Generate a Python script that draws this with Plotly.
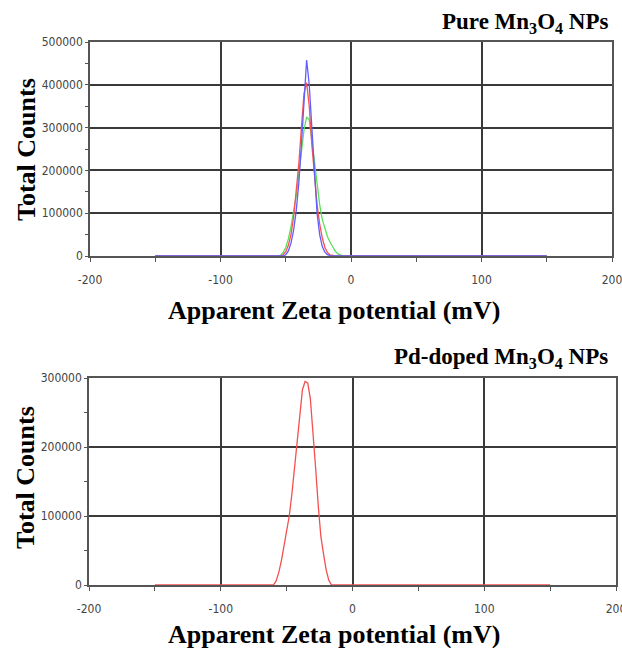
import plotly.graph_objects as go

W, H = 622, 648

# ---------------- data ----------------
# Pure Mn3O4 NPs (three runs)
blue_x = [-150, -52, -50, -48, -46, -44, -42, -40, -38, -36, -34, -32, -30, -28, -26, -24, -22, -20, -18, -16, -14, 150]
blue_y = [0, 0, 3000, 12000, 30000, 60000, 105000, 170000, 260000, 370000, 458000, 400000, 290000, 180000, 100000, 50000, 22000, 9000, 3000, 800, 0, 0]

red_x = [-150, -54, -52, -50, -48, -46, -44, -42, -40, -38, -36, -34, -32, -30, -28, -26, -24, -22, -20, -18, -16, -14, -12, 150]
red_y = [0, 0, 3000, 10000, 25000, 50000, 90000, 145000, 215000, 300000, 380000, 405000, 350000, 260000, 180000, 120000, 75000, 42000, 20000, 8000, 2500, 500, 0, 0]

green_x = [-150, -56, -54, -52, -50, -48, -46, -44, -42, -40, -38, -36, -34, -32, -30, -28, -26, -24, -22, -20, -18, -16, -14, -12, -10, -8, -6, -4, 150]
green_y = [0, 0, 2000, 8000, 20000, 40000, 68000, 100000, 140000, 190000, 245000, 295000, 325000, 318000, 270000, 215000, 165000, 120000, 85000, 62000, 45000, 32000, 20000, 11000, 5000, 2000, 500, 0, 0]

# Pd-doped Mn3O4 NPs
pd_x = [-150, -60, -58, -56, -54, -52, -50, -48, -46, -44, -42, -40, -38, -36, -34, -32, -30, -28, -26, -24, -22, -20, -18, -16, 150]
pd_y = [0, 0, 6000, 18000, 35000, 55000, 75000, 100000, 132000, 170000, 210000, 250000, 283000, 295000, 293000, 270000, 225000, 170000, 115000, 70000, 45000, 22000, 7000, 0, 0]

x_ticks = [-200, -100, 0, 100, 200]
x_tick_text = ["-200", "-100", "0", "100", "200"]
top_y_ticks = [0, 100000, 200000, 300000, 400000, 500000]
bot_y_ticks = [0, 100000, 200000, 300000]

title_top = "Pure Mn<sub>3</sub>O<sub>4</sub> NPs"
title_bot = "Pd-doped Mn<sub>3</sub>O<sub>4</sub> NPs"
x_title = "Apparent Zeta potential (mV)"
y_title = "Total Counts"

# ---------------- figure ----------------
fig = go.Figure()
lw = 1.3
fig.add_trace(go.Scatter(x=green_x, y=green_y, mode="lines", line=dict(color="rgb(90,225,90)", width=lw), xaxis="x", yaxis="y"))
fig.add_trace(go.Scatter(x=red_x, y=red_y, mode="lines", line=dict(color="rgb(250,80,80)", width=lw), xaxis="x", yaxis="y"))
fig.add_trace(go.Scatter(x=blue_x, y=blue_y, mode="lines", line=dict(color="rgb(95,95,255)", width=lw), xaxis="x", yaxis="y"))
fig.add_trace(go.Scatter(x=pd_x, y=pd_y, mode="lines", line=dict(color="rgb(245,80,80)", width=lw), xaxis="x2", yaxis="y2"))

tick_font = dict(family="Liberation Sans Narrow, DejaVu Sans Condensed, Arial Narrow, sans-serif", size=12, color="#444")
grid_col = "#3a3a3a"

def xa(domain, anchor):
    return dict(domain=domain, anchor=anchor, range=[-200, 200], tickvals=x_ticks, ticktext=x_tick_text,
                automargin=False, ticklabeloverflow="allow",
                showgrid=True, gridcolor=grid_col, gridwidth=1.5, zeroline=False,
                showline=True, linecolor="#555", linewidth=1.5, mirror=True,
                ticks="outside", ticklen=4, tickcolor="#555", tickfont=tick_font,
                ticklabelstandoff=8,
                minor=dict(dtick=50, tick0=-150, ticks="outside", ticklen=4, tickcolor="#555", showgrid=False))

def ya(domain, anchor, rng, vals, mdt):
    return dict(domain=domain, anchor=anchor, range=rng, tickvals=vals,
                ticktext=[str(v) for v in vals],
                automargin=False, ticklabeloverflow="allow",
                showgrid=True, gridcolor=grid_col, gridwidth=1.5, zeroline=False,
                showline=True, linecolor="#555", linewidth=1.5, mirror=True,
                ticks="outside", ticklen=3, tickcolor="#555", tickfont=tick_font,
                minor=dict(dtick=mdt, ticks="outside", ticklen=3, tickcolor="#555", showgrid=False))

fig.update_layout(
    width=W, height=H, margin=dict(l=0, r=0, t=0, b=0, autoexpand=False),
    paper_bgcolor="white", plot_bgcolor="white", showlegend=False,
    xaxis=xa([90 / W, 612 / W], "y"),
    yaxis=ya([1 - 256 / H, 1 - 42 / H], "x", [0, 500000], top_y_ticks, 50000),
    xaxis2=xa([89 / W, 616 / W], "y2"),
    yaxis2=ya([1 - 585 / H, 1 - 378 / H], "x2", [0, 300000], bot_y_ticks, 50000),
)

serif = "Liberation Serif, Times New Roman, serif"
ann = []
def add(text, x, y, size, angle=0, xanchor="center"):
    ann.append(dict(text="<b>" + text + "</b>", x=x / W, y=1 - y / H, xref="paper", yref="paper",
                    showarrow=False, textangle=angle, xanchor=xanchor, yanchor="middle",
                    font=dict(family=serif, size=size, color="black")))

add(title_top, 610, 23, 23, xanchor="right")
add(title_bot, 610, 358, 23, xanchor="right")
add(x_title, 334, 310, 26)
add(x_title, 334, 634, 26)
add(y_title, 26, 150, 26, angle=-90)
add(y_title, 26, 478, 26, angle=-90)
fig.update_layout(annotations=ann)

fig.write_html("out.html")
